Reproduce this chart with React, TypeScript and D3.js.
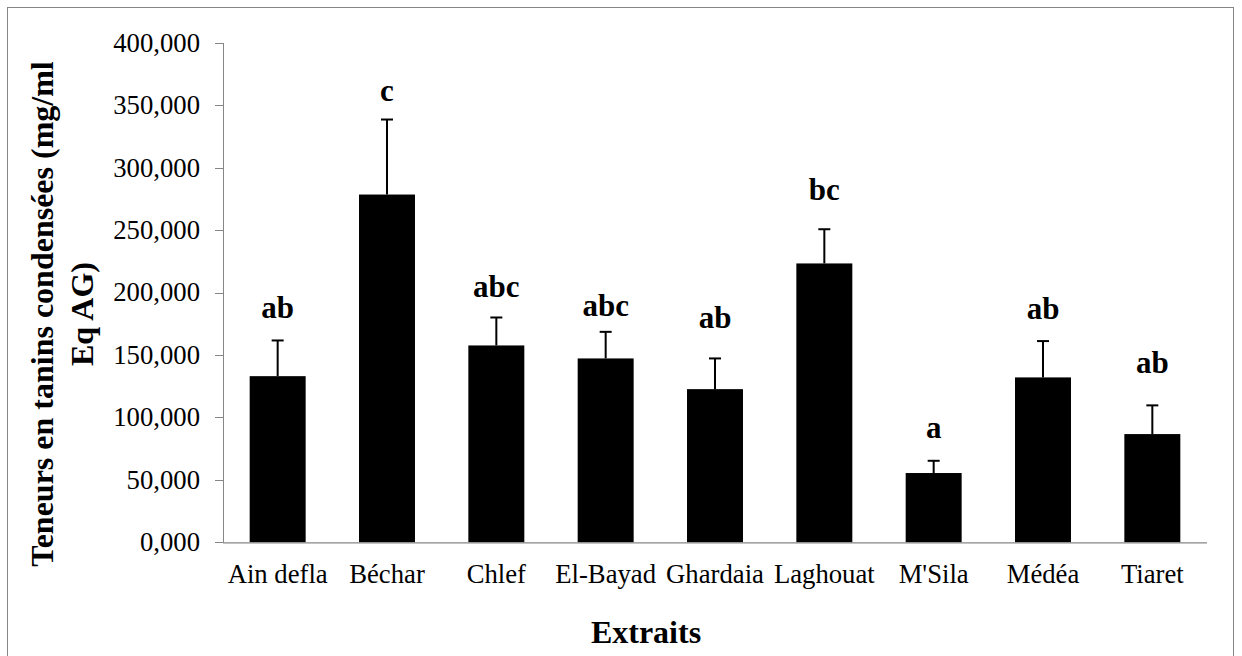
import React from "react";
import * as d3 from "d3";

const categories = ["Ain defla", "Béchar", "Chlef", "El-Bayad", "Ghardaia", "Laghouat", "M'Sila", "Médéa", "Tiaret"];
const values = [133.1, 278.6, 157.7, 147.3, 122.7, 223.4, 55.5, 132.1, 86.7];
const errors = [28.6, 60.1, 22.4, 21.3, 24.6, 27.4, 9.8, 29.1, 23.0];
const letters = ["ab", "c", "abc", "abc", "ab", "bc", "a", "ab", "ab"];
const letterY = [179.3, 353.7, 196.6, 181.2, 171.8, 274.1, 83.3, 178.5, 135.3];
const yTicks = [0, 50, 100, 150, 200, 250, 300, 350, 400];

const W = 1242;
const H = 656;
const left = 223;
const right = 1207;
const top = 43;
const bottom = 542.3;
const FONT = "Liberation Serif, Times New Roman, Times, serif";
const AXIS = "#868686";
const ts: React.CSSProperties = { fontFamily: FONT };

export default function App() {
  const x = d3.scaleBand<string>().domain(categories).range([left, right]).paddingInner(0.488).paddingOuter(0.244);
  const y = d3.scaleLinear().domain([0, 400]).range([bottom, top]);
  const tickLabel = (v: number) => `${v},000`;
  const bw = x.bandwidth();
  return (
    <svg width={W} height={H} style={{ position: "absolute", left: 0, top: 0, background: "#fff", fontFamily: FONT }}>
      <rect x={7.5} y={7.5} width={1226} height={H + 10} fill="#fff" stroke={AXIS} strokeWidth={1} />
      {/* y axis */}
      <line x1={left + 0.5} x2={left + 0.5} y1={y(400)} y2={y(0)} stroke={AXIS} strokeWidth={1} />
      {yTicks.map((t) => (
        <g key={t}>
          <line x1={left - 8} x2={left} y1={Math.round(y(t)) + 0.5} y2={Math.round(y(t)) + 0.5} stroke={AXIS} strokeWidth={1} />
          <text x={200} y={y(t)} dy="0.33em" textAnchor="end" fontSize={26.7} fill="#000" style={ts}>
            {tickLabel(t)}
          </text>
        </g>
      ))}
      {/* bars */}
      {categories.map((c, i) => (
        <rect key={c} x={x(c)!} y={y(values[i])} width={bw} height={y(0) - y(values[i])} fill="#000" />
      ))}
      {/* error bars */}
      {categories.map((c, i) => {
        const cx = x(c)! + bw / 2;
        const yt = y(values[i] + errors[i]);
        return (
          <g key={c + "e"} stroke="#000" strokeWidth={2}>
            <line x1={cx} x2={cx} y1={y(values[i])} y2={yt} />
            <line x1={cx - 6} x2={cx + 6} y1={yt} y2={yt} />
          </g>
        );
      })}
      {/* x axis */}
      <line x1={left} x2={right} y1={y(0) + 0.5} y2={y(0) + 0.5} stroke={AXIS} strokeWidth={1.3} />
      {categories.map((c) => (
        <text key={c + "l"} x={x(c)! + bw / 2} y={583} textAnchor="middle" fontSize={26.7} fill="#000" style={ts}>
          {c}
        </text>
      ))}
      {/* significance letters */}
      {categories.map((c, i) => (
        <text key={c + "s"} x={x(c)! + bw / 2} y={y(letterY[i])} textAnchor="middle" fontSize={31} fontWeight="bold" fill="#000" style={ts}>
          {letters[i]}
        </text>
      ))}
      {/* axis titles */}
      <text x={646} y={643} textAnchor="middle" fontSize={32} fontWeight="bold" fill="#000" style={ts}>
        Extraits
      </text>
      <g transform="translate(53,314) rotate(-90)">
        <text x={0} y={0} textAnchor="middle" fontSize={32} fontWeight="bold" fill="#000" style={ts}>
          Teneurs en tanins condensées (mg/ml
        </text>
        <text x={0} y={40} textAnchor="middle" fontSize={32} fontWeight="bold" fill="#000" style={ts}>
          Eq AG)
        </text>
      </g>
    </svg>
  );
}
